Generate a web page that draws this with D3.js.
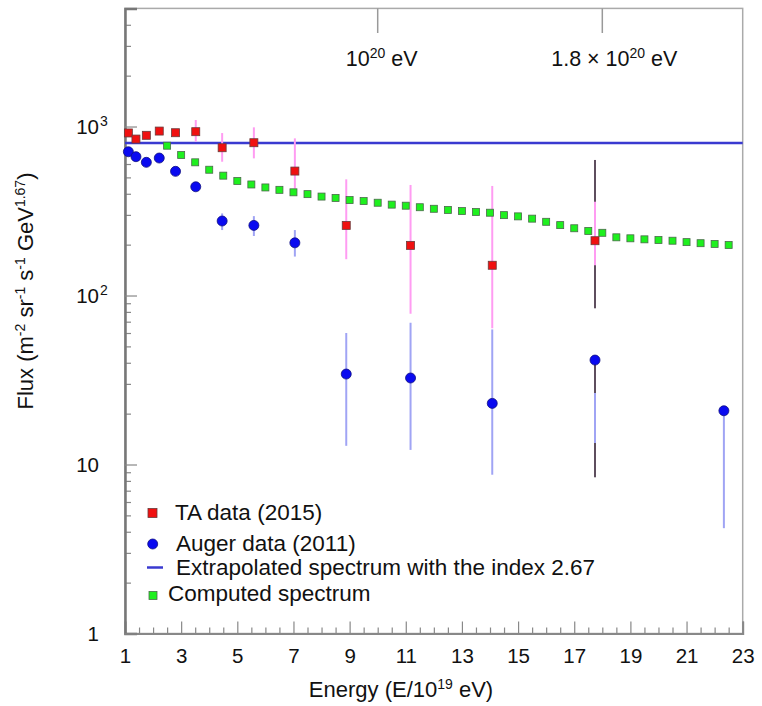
<!DOCTYPE html>
<html>
<head>
<meta charset="utf-8">
<title>Flux spectrum</title>
<script src="https://cdn.jsdelivr.net/npm/d3@7"></script>
<style>
  body { margin: 0; background: #fff; }
  svg { font-family: "Liberation Sans", Arial, sans-serif; }
</style>
</head>
<body>
<script>
// TA data (2015)
var taE    = [1.12, 1.39, 1.76, 2.22, 2.80, 3.52, 4.46, 5.59, 7.05, 8.88, 11.17, 14.08, 17.74];
var taFlux = [916, 843, 887, 940, 919, 932, 749, 802, 545, 260, 198, 151, 211];
var taHi   = [null, null, null, null, null, 1093, 915, 989, 851, 487, 451, 445, 359];
var taLo   = [null, null, null, null, null, 813, 619, 648, 430, 164, 78, 64, 151];

// Auger data (2011)
var augerE    = [1.12, 1.39, 1.76, 2.22, 2.80, 3.52, 4.46, 5.59, 7.05, 8.88, 11.17, 14.08, 17.74, 22.33];
var augerFlux = [709, 663, 614, 651, 543, 440, 276, 260, 205, 34.3, 32.5, 23.0, 41.5, 20.8];
var augerHi   = [null, null, null, null, null, null, 306, 295, 244, 60, 69, 63, 26.5, 20.8];
var augerLo   = [null, null, null, null, null, null, 244, 225, 170, 12.9, 12.2, 8.7, 13.4, 4.2];

// dark outer error bars at the last TA/Auger bin
var darkE  = [17.74, 17.74];
var darkHi = [634, 41.5];
var darkLo = [84, 8.4];

// computed spectrum
var compE = [2.5, 3, 3.5, 4, 4.5, 5, 5.5, 6, 6.5, 7, 7.5, 8, 8.5, 9, 9.5, 10, 10.5, 11, 11.5, 12,
             12.5, 13, 13.5, 14, 14.5, 15, 15.5, 16, 16.5, 17, 17.5, 18, 18.5, 19, 19.5, 20, 20.5, 21, 21.5, 22, 22.5];
var compFlux = [770, 678, 614, 555, 512, 476, 454, 436, 422, 408, 398, 385, 378, 367, 362, 354, 345, 340, 333, 326,
                321, 316, 312, 309, 299, 294, 285, 273, 261, 250, 241, 235, 221, 218, 215, 213, 211, 207, 204, 202, 199];

// extrapolated spectrum (index 2.67)
var extrapE = [1, 23];
var extrapFlux = [800, 800];

// axis ticks / marker labels
var xMajor = [1, 3, 5, 7, 9, 11, 13, 15, 17, 19, 21, 23];
var yMajor = [1, 10, 100, 1000];
var yLabels = [['1', ''], ['10', ''], ['10', '2'], ['10', '3']];
var topE = [10, 18];
var topLabels = [['', '10', '20', ' eV'], ['1.8 \u00d7 ', '10', '20', ' eV']];

var w = 762, h = 706;
var svg = d3.select('body').append('svg').attr('width', w).attr('height', h);

var x = d3.scaleLinear().domain([1, 23]).range([125, 742.7]);
var y = d3.scaleLog().domain([1, 5000]).range([633.5, 8.4]);

function zipErr(E, hi, lo) {
  return E.map(function(e, i) { return {e: e, hi: hi[i], lo: lo[i]}; })
          .filter(function(d) { return d.hi != null; });
}

// frame
svg.append('rect').attr('x', x(1)).attr('y', y(5000))
  .attr('width', x(23) - x(1)).attr('height', y(1) - y(5000))
  .attr('fill', 'none').attr('stroke', '#aaa').attr('stroke-width', 1.5);

// x axis: minor then major
var xMinor = x.ticks(44).filter(function(v) { return xMajor.indexOf(v) < 0; });
svg.append('g').attr('transform', 'translate(0,' + y(1) + ')')
  .call(d3.axisBottom(x).tickValues(xMinor).tickSize(-6).tickFormat(''))
  .call(function(g) { g.select('.domain').remove(); g.selectAll('line').attr('stroke', '#888').attr('stroke-width', 1.2); });
svg.append('g').attr('transform', 'translate(0,' + y(1) + ')')
  .call(d3.axisBottom(x).tickValues(xMajor).tickSize(-12).tickPadding(15).tickFormat(d3.format('d')))
  .call(function(g) {
    g.select('.domain').attr('stroke', '#888').attr('stroke-width', 2);
    g.selectAll('line').attr('stroke', '#888').attr('stroke-width', 1.2);
    g.selectAll('text').attr('font-size', 20.5).attr('fill', '#111').attr('font-family', null);
  });

// y axis: minor then major
var yMinor = y.ticks().filter(function(v) { return yMajor.indexOf(v) < 0 && v < 5000; });
svg.append('g').attr('transform', 'translate(' + x(1) + ',0)')
  .call(d3.axisLeft(y).tickValues(yMinor).tickSize(-6).tickFormat(''))
  .call(function(g) { g.select('.domain').remove(); g.selectAll('line').attr('stroke', '#888').attr('stroke-width', 1.2); });
var yAx = svg.append('g').attr('transform', 'translate(' + x(1) + ',0)')
  .call(d3.axisLeft(y).tickValues(yMajor).tickSize(-12).tickFormat(''))
  .call(function(g) {
    g.select('.domain').attr('stroke', '#777').attr('stroke-width', 2.5);
    g.selectAll('line').attr('stroke', '#888').attr('stroke-width', 1.2);
  });
yAx.selectAll('.tick').each(function(d, i) {
  d3.select(this).append('text').attr('x', -26).attr('dy', '0.36em')
    .attr('text-anchor', 'end').attr('font-size', 20.5).attr('fill', '#111').text(yLabels[i][0]);
  if (yLabels[i][1]) {
    d3.select(this).append('text').attr('x', -25).attr('dy', '-0.05em')
      .attr('text-anchor', 'start').attr('font-size', 14).attr('fill', '#111').text(yLabels[i][1]);
  }
});

// top marker ticks and labels
topE.forEach(function(e, i) {
  svg.append('line').attr('x1', x(e)).attr('x2', x(e)).attr('y1', y(5000)).attr('y2', 33)
    .attr('stroke', '#999').attr('stroke-width', 1.5);
  var lab = topLabels[i];
  var t = svg.append('text').attr('x', x(e) + (i == 0 ? 4 : 12)).attr('y', 66)
    .attr('text-anchor', 'middle').attr('font-size', 21.5).attr('fill', '#111');
  t.append('tspan').text(lab[0] + lab[1]);
  t.append('tspan').attr('font-size', 14).attr('dy', -8).text(lab[2]);
  t.append('tspan').attr('dy', 8).text(lab[3]);
});

// extrapolated spectrum
var line = d3.line().x(function(d) { return x(d[0]); }).y(function(d) { return y(d[1]); });
svg.append('path').datum(d3.zip(extrapE, extrapFlux))
  .attr('d', line).attr('fill', 'none').attr('stroke', '#3a3ad0').attr('stroke-width', 2.5);

// error bars
svg.append('g').selectAll('line').data(zipErr(darkE, darkHi, darkLo)).enter().append('line')
  .attr('x1', function(d) { return x(d.e); }).attr('x2', function(d) { return x(d.e); })
  .attr('y1', function(d) { return y(d.hi); }).attr('y2', function(d) { return y(d.lo); })
  .attr('stroke', '#5e4e5e').attr('stroke-width', 2);
svg.append('g').selectAll('line').data(zipErr(taE, taHi, taLo)).enter().append('line')
  .attr('x1', function(d) { return x(d.e); }).attr('x2', function(d) { return x(d.e); })
  .attr('y1', function(d) { return y(d.hi); }).attr('y2', function(d) { return y(d.lo); })
  .attr('stroke', '#ff9cf2').attr('stroke-width', 2);
svg.append('g').selectAll('line').data(zipErr(augerE, augerHi, augerLo)).enter().append('line')
  .attr('x1', function(d) { return x(d.e); }).attr('x2', function(d) { return x(d.e); })
  .attr('y1', function(d) { return y(d.hi); }).attr('y2', function(d) { return y(d.lo); })
  .attr('stroke', '#a0a4f4').attr('stroke-width', 2);

// computed spectrum
svg.append('g').selectAll('rect').data(d3.zip(compE, compFlux)).enter().append('rect')
  .attr('x', function(d) { return x(d[0]) - 3.5; }).attr('y', function(d) { return y(d[1]) - 3.5; })
  .attr('width', 7).attr('height', 7)
  .attr('fill', '#1ef01e').attr('stroke', '#4a6a4a').attr('stroke-width', 0.8);

// TA points
svg.append('g').selectAll('rect').data(d3.zip(taE, taFlux)).enter().append('rect')
  .attr('x', function(d) { return x(d[0]) - 4; }).attr('y', function(d) { return y(d[1]) - 4; })
  .attr('width', 8).attr('height', 8)
  .attr('fill', '#f01010').attr('stroke', '#6a3a3a').attr('stroke-width', 0.8);

// Auger points
svg.append('g').selectAll('circle').data(d3.zip(augerE, augerFlux)).enter().append('circle')
  .attr('cx', function(d) { return x(d[0]); }).attr('cy', function(d) { return y(d[1]); })
  .attr('r', 5).attr('fill', '#0a0af0').attr('stroke', '#101080').attr('stroke-width', 0.8);

// legend
var lg = svg.append('g').attr('font-size', 22.5).attr('fill', '#111');
lg.append('rect').attr('x', 148).attr('y', 508.5).attr('width', 9).attr('height', 9)
  .attr('fill', '#f01010').attr('stroke', '#6a3a3a').attr('stroke-width', 0.8);
lg.append('text').attr('x', 175).attr('y', 520).text('TA data (2015)');
lg.append('circle').attr('cx', 152.7).attr('cy', 544).attr('r', 5)
  .attr('fill', '#0a0af0').attr('stroke', '#101080').attr('stroke-width', 0.8);
lg.append('text').attr('x', 176).attr('y', 551).text('Auger data (2011)');
lg.append('line').attr('x1', 147).attr('x2', 163).attr('y1', 567.5).attr('y2', 567.5)
  .attr('stroke', '#3a3ad0').attr('stroke-width', 2.5);
lg.append('text').attr('x', 176).attr('y', 575).text('Extrapolated spectrum with the index 2.67');
lg.append('rect').attr('x', 149).attr('y', 591.5).attr('width', 8).attr('height', 8)
  .attr('fill', '#1ef01e').attr('stroke', '#4a6a4a').attr('stroke-width', 0.8);
lg.append('text').attr('x', 168).attr('y', 601).text('Computed spectrum');

// axis titles
var xt = svg.append('text').attr('x', 401).attr('y', 697).attr('text-anchor', 'middle')
  .attr('font-size', 22).attr('fill', '#111');
xt.append('tspan').text('Energy (E/10');
xt.append('tspan').attr('font-size', 14).attr('dy', -8).text('19');
xt.append('tspan').attr('dy', 8).text(' eV)');

var yt = svg.append('text').attr('transform', 'translate(33,291)rotate(-90)')
  .attr('text-anchor', 'middle').attr('font-size', 22).attr('fill', '#111');
yt.append('tspan').text('Flux (m');
yt.append('tspan').attr('font-size', 14).attr('dy', -8).text('-2');
yt.append('tspan').attr('dy', 8).text(' sr');
yt.append('tspan').attr('font-size', 14).attr('dy', -8).text('-1');
yt.append('tspan').attr('dy', 8).text(' s');
yt.append('tspan').attr('font-size', 14).attr('dy', -8).text('-1');
yt.append('tspan').attr('dy', 8).text(' GeV');
yt.append('tspan').attr('font-size', 14).attr('dy', -8).text('1.67');
yt.append('tspan').attr('dy', 8).text(')');
</script>
</body>
</html>
